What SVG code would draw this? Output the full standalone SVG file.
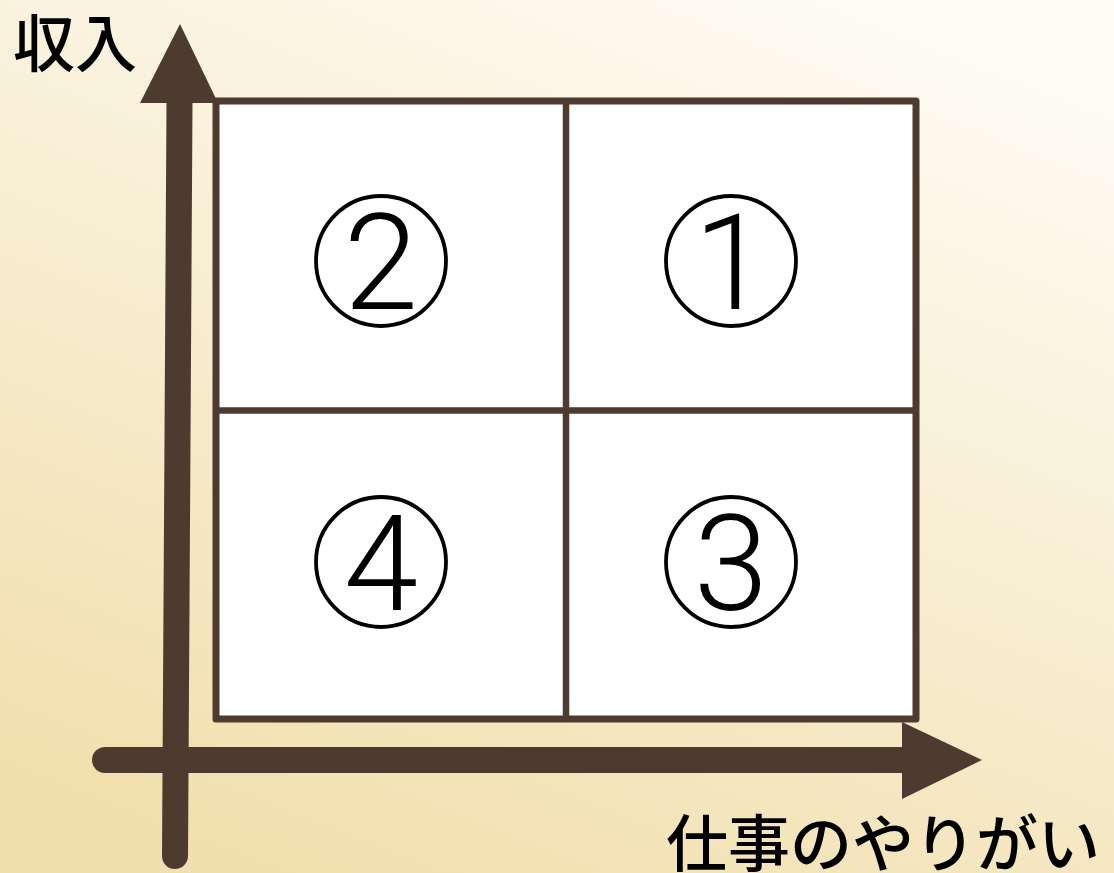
<svg xmlns="http://www.w3.org/2000/svg" width="1114" height="873" viewBox="0 0 1114 873">
<defs>
<linearGradient id="bg" x1="0.75" y1="0" x2="0.25" y2="1">
<stop offset="0" stop-color="#fefbf3"/>
<stop offset="1" stop-color="#f1dfad"/>
</linearGradient>
<style>
.ax{stroke:#4e3b2f;stroke-width:26;stroke-linecap:round;fill:none}
.ah{fill:#4e3b2f}
.cell{fill:#ffffff;stroke:#4e3b2f;stroke-width:7;stroke-linejoin:round}
.div{stroke:#4e3b2f;stroke-width:6.5}
.ring{fill:none;stroke:#000;stroke-width:3.8}
.num{font-family:Roboto,"Liberation Sans",Arial,sans-serif;font-weight:300;font-size:134px;fill:#000;text-anchor:middle}
.lbl{font-family:"Noto Sans CJK JP","Noto Sans",sans-serif;font-weight:500;font-size:62px;fill:#000}
</style>
</defs>
<rect width="1114" height="873" fill="url(#bg)"/>
<g id="matrix">
<rect class="cell" x="216" y="101" width="700" height="618"/>
<line class="div" x1="566" y1="101" x2="566" y2="719"/>
<line class="div" x1="216" y1="410.5" x2="916" y2="410.5"/>
</g>
<g id="connectors">
<line class="ax" x1="179.5" y1="103" x2="175" y2="856"/>
<polygon class="ah" points="180,24 218,103 140,103"/>
<line class="ax" x1="105" y1="760" x2="902" y2="760"/>
<polygon class="ah" points="902,722 982,760 902,799"/>
</g>
<g id="q2">
<circle class="ring" cx="381" cy="261" r="65"/>
<text class="num" x="381" y="309">2</text>
</g>
<g id="q1">
<circle class="ring" cx="731" cy="261" r="65"/>
<text class="num" x="731" y="309">1</text>
</g>
<g id="q4">
<circle class="ring" cx="381" cy="562" r="65"/>
<text class="num" x="381" y="610">4</text>
</g>
<g id="q3">
<circle class="ring" cx="731" cy="562" r="65"/>
<text class="num" x="731" y="610">3</text>
</g>
<g id="label-y">
<text class="lbl" x="13" y="67">収入</text>
</g>
<g id="label-x">
<text class="lbl" x="666" y="867">仕事のやりがい</text>
</g>
</svg>
